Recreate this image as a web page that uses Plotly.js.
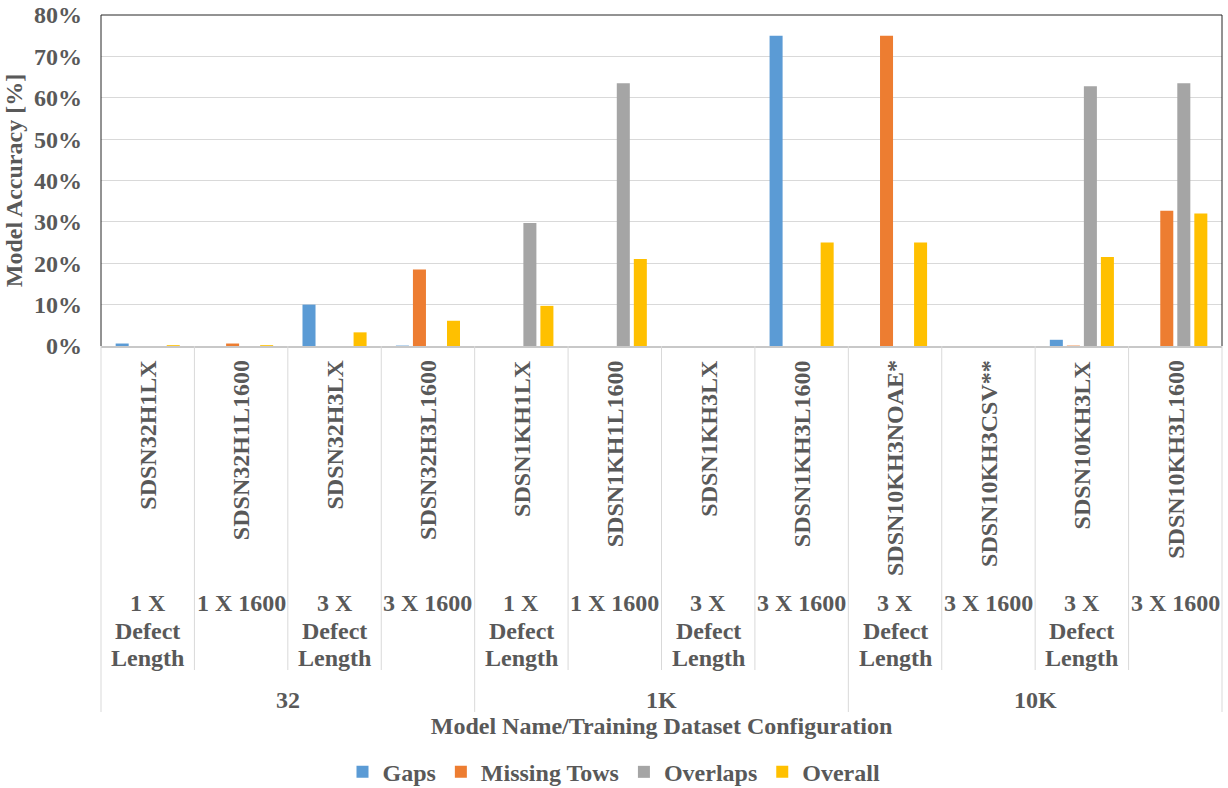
<!DOCTYPE html>
<html>
<head>
<meta charset="utf-8">
<script src="https://cdn.plot.ly/plotly-3.0.1.min.js"></script>
<style>
  html, body { margin: 0; padding: 0; background: #fff; }
  #chart { width: 1228px; height: 788px; }
</style>
</head>
<body>
<div id="chart"></div>
<script>
// Model names (one bar group each), training configuration and dataset size
const models = ['SDSN32H1LX', 'SDSN32H1L1600', 'SDSN32H3LX', 'SDSN32H3L1600',
                'SDSN1KH1LX', 'SDSN1KH1L1600', 'SDSN1KH3LX', 'SDSN1KH3L1600',
                'SDSN10KH3NOAE*', 'SDSN10KH3CSV**', 'SDSN10KH3LX', 'SDSN10KH3L1600'];
const configs = ['1 X<br>Defect<br>Length', '1 X 1600', '3 X<br>Defect<br>Length', '3 X 1600',
                 '1 X<br>Defect<br>Length', '1 X 1600', '3 X<br>Defect<br>Length', '3 X 1600',
                 '3 X<br>Defect<br>Length', '3 X 1600', '3 X<br>Defect<br>Length', '3 X 1600'];
const datasets = ['32', '32', '32', '32', '1K', '1K', '1K', '1K', '10K', '10K', '10K', '10K'];

// Accuracy per defect class [%]
const gaps        = [0.6, 0,   10,  0.1,  0,    0,    0, 75, 0,  0, 1.5, 0];
const missingTows = [0,   0.6, 0,   18.5, 0,    0,    0, 0,  75, 0, 0.1, 32.7];
const overlaps    = [0,   0,   0,   0,    29.7, 63.5, 0, 0,  0,  0, 62.8, 63.5];
const overall     = [0.2, 0.2, 3.3, 6.1,  9.7,  21,   0, 25, 25, 0, 21.5, 32];

const seriesNames  = ['Gaps', 'Missing Tows', 'Overlaps', 'Overall'];
const seriesValues = [gaps, missingTows, overlaps, overall];
const seriesColors = ['#5B9BD5', '#ED7D31', '#A5A5A5', '#FFC000'];

const FONT = 'Liberation Serif, "Times New Roman", serif';
const TXT = '#595959';

// plot area geometry (pixels)
const W = 1228, H = 788;
const M = {l: 101, r: 6, t: 15, b: 442};
const plotH = H - M.t - M.b;
const py = px => -(px - (H - M.b)) / plotH;   // pixel row -> paper y

const xIdx = models.map((_, i) => i);

const traces = seriesNames.map((name, k) => ({
  type: 'bar',
  name: name,
  x: xIdx,
  y: seriesValues[k],
  marker: {color: seriesColors[k], line: {width: 0}},
  hoverinfo: 'x+y+name'
}));

const annotations = [];
const shapes = [];
const n = models.length;

// rotated model names
models.forEach((m, i) => {
  annotations.push({
    x: i, xref: 'x', y: py(358), yref: 'paper',
    text: m, textangle: -90, showarrow: false,
    xanchor: 'center', yanchor: 'top',
    font: {family: FONT, size: 24, color: TXT, weight: 700}
  });
});

// configuration rows, one line at a time
configs.forEach((c, i) => {
  c.split('<br>').forEach((line, j) => {
    annotations.push({
      x: i, xref: 'x', y: py(603 + j * 27.5), yref: 'paper',
      text: line, showarrow: false,
      xanchor: 'center', yanchor: 'middle',
      font: {family: FONT, size: 24, color: TXT, weight: 700}
    });
  });
});

// dataset group labels
const groups = [];
datasets.forEach((d, i) => {
  const g = groups.find(gr => gr.name === d);
  if (g) g.idx.push(i); else groups.push({name: d, idx: [i]});
});
groups.forEach(g => {
  const mid = (g.idx[0] + g.idx[g.idx.length - 1]) / 2;
  annotations.push({
    x: mid, xref: 'x', y: py(700), yref: 'paper',
    text: g.name, showarrow: false,
    xanchor: 'center', yanchor: 'middle',
    font: {family: FONT, size: 24, color: TXT, weight: 700}
  });
});

// category dividers below the axis
for (let b = 0; b <= n; b++) {
  const edge = (b === 0 || b === n || datasets[b] !== datasets[b - 1]);
  shapes.push({
    type: 'line', xref: 'paper', yref: 'paper',
    x0: b / n, x1: b / n, y0: 0, y1: py(edge ? 712 : 670),
    line: {color: '#D9D9D9', width: 1}
  });
}

// plot area frame (top, left, right)
[[0, 0, 0, 1], [0, 1, 1, 1], [1, 1, 1, 0]].forEach(([x0, y0, x1, y1]) => {
  shapes.push({type: 'line', xref: 'paper', yref: 'paper', x0, y0, x1, y1,
               line: {color: '#262626', width: 1}});
});

const layout = {
  width: W, height: H,
  margin: M,
  paper_bgcolor: '#fff', plot_bgcolor: '#fff',
  font: {family: FONT, size: 24, color: TXT, weight: 700},
  barmode: 'group',
  bargap: 0.271,
  bargroupgap: 0.235,
  showlegend: true,
  legend: {
    orientation: 'h', xref: 'container', yref: 'container',
    x: 0.5, xanchor: 'center', y: 0.02, yanchor: 'middle',
    font: {family: FONT, size: 24, color: TXT, weight: 700},
    itemwidth: 30
  },
  xaxis: {
    type: 'category',
    range: [-0.5, n - 0.5],
    showticklabels: false, ticks: '',
    showgrid: false, zeroline: false,
    showline: true, linecolor: '#C8C8C8', linewidth: 1.5,
    title: {text: 'Model Name/Training Dataset Configuration', standoff: 370,
            font: {family: FONT, size: 24, color: TXT, weight: 700}},
    automargin: false, fixedrange: true
  },
  yaxis: {
    range: [0, 80], dtick: 10, ticksuffix: '%',
    showgrid: true, gridcolor: '#D9D9D9', gridwidth: 1,
    zeroline: false, showline: false, ticks: '',
    ticklabelstandoff: 18,
    tickfont: {family: FONT, size: 24, color: TXT, weight: 700},
    title: {text: 'Model Accuracy [%]', standoff: 4,
            font: {family: FONT, size: 24, color: TXT, weight: 700}},
    automargin: false, fixedrange: true
  },
  annotations: annotations,
  shapes: shapes
};

Plotly.newPlot('chart', traces, layout, {displayModeBar: false, staticPlot: true});
</script>
</body>
</html>
